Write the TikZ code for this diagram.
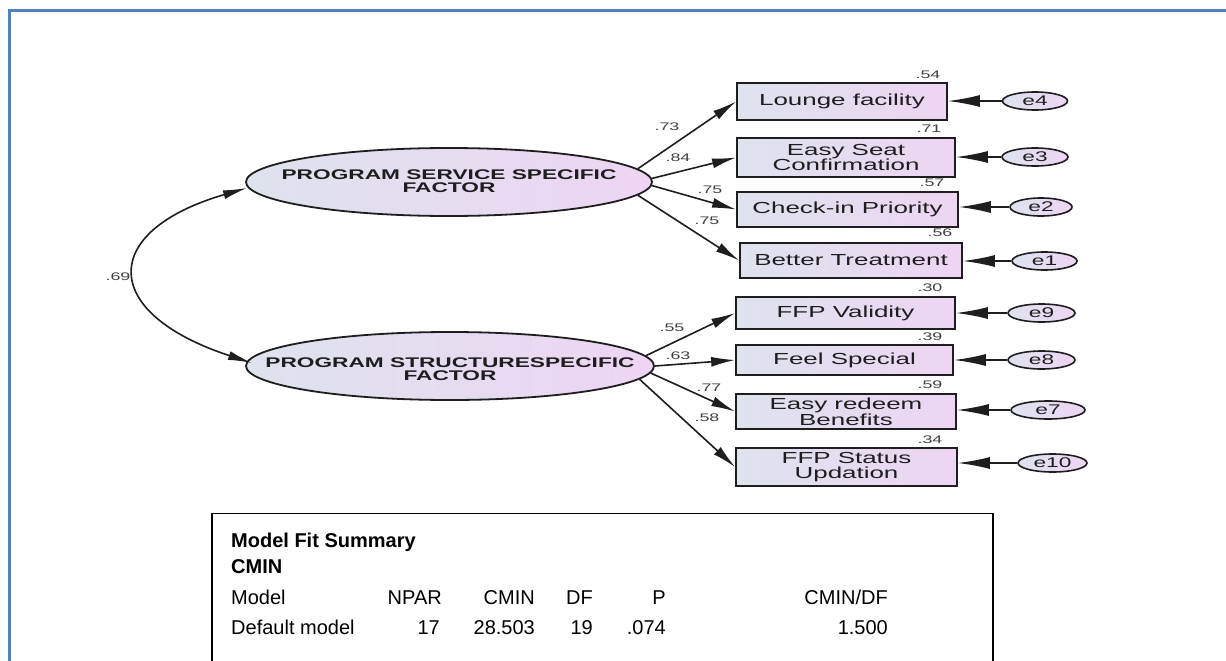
\documentclass[tikz,border=0pt]{standalone}
\usepackage{fontspec}
\setmainfont{Liberation Sans}
\newfontfamily\amos[FakeStretch=1.62]{Liberation Sans}
\usetikzlibrary{arrows.meta,shapes.geometric}

\definecolor{frameblue}{RGB}{79,129,189}
\definecolor{shadeL}{RGB}{222,227,237}
\definecolor{shadeR}{RGB}{237,213,243}
\definecolor{ink}{RGB}{30,30,30}

\begin{document}
\begin{tikzpicture}[x=1pt,y=-1pt,
  latent/.style={ellipse,draw=ink,line width=1.8pt,left color=shadeL,right color=shadeR,
    minimum width=406pt,minimum height=68pt,inner sep=0pt},
  latenttext/.style={inner sep=0pt,align=center,
    font=\amos\bfseries\fontsize{14}{13}\selectfont,text=ink},
  obsbox/.style={rectangle,draw=ink,line width=1.8pt,left color=shadeL,right color=shadeR,
    inner sep=0pt,align=center,font=\amos\fontsize{16}{14.5}\selectfont,text=ink},
  errnode/.style={ellipse,draw=ink,line width=1.6pt,left color=shadeL,right color=shadeR,
    minimum height=18pt,inner sep=0pt,font=\amos\fontsize{14}{14}\selectfont,text=ink},
  coef/.style={font=\amos\fontsize{11}{11}\selectfont,text=ink!85,inner sep=0pt},
  loadarrow/.style={draw=ink,line width=1.6pt,-{Latex[length=24pt,width=10pt]}},
  errarrow/.style={draw=ink,line width=1.6pt,-{Latex[length=32pt,width=12pt]}},
  covarrow/.style={draw=ink,line width=1.6pt,{Latex[length=24pt,width=9pt]}-{Latex[length=24pt,width=9pt]}},
  tabtext/.style={font=\fontsize{20}{24}\selectfont,inner sep=0pt,text=black}
]
\useasboundingbox (0,0) rectangle (1226,661);
\fill[white] (0,0) rectangle (1226,661);

% outer frame
\draw[frameblue,line width=3pt] (9.5,680) -- (9.5,10.5) -- (1240,10.5);

% latent factors
\node[latent] (ps) at (449,182) {};
\node[latenttext] (pstxt) at (449,181) {PROGRAM SERVICE SPECIFIC\\FACTOR};
\node[latent,minimum width=408pt] (pst) at (450,366) {};
\node[latenttext] (psttxt) at (450,369) {PROGRAM STRUCTURESPECIFIC\\FACTOR};

% observed variables
\node[obsbox,minimum width=210pt,minimum height=37pt] (lounge)  at (842,101.5) {Lounge facility};
\node[obsbox,minimum width=218pt,minimum height=39pt] (seat)    at (846,157.5) {Easy Seat\\Confirmation};
\node[obsbox,minimum width=221pt,minimum height=35pt] (checkin) at (847.5,209.5) {Check-in Priority};
\node[obsbox,minimum width=222pt,minimum height=35pt] (better)  at (851,260.5) {Better Treatment};
\node[obsbox,minimum width=219pt,minimum height=32pt] (valid)   at (845.5,313) {FFP Validity};
\node[obsbox,minimum width=217pt,minimum height=30pt] (special) at (844.5,360) {Feel Special};
\node[obsbox,minimum width=220pt,minimum height=35pt] (redeem)  at (846,411.5) {Easy redeem\\Benefits};
\node[obsbox,minimum width=221pt,minimum height=38pt] (status)  at (846.5,467) {FFP Status\\Updation};

% error terms
\node[errnode,minimum width=65pt] (e4)  at (1035,101) {e4};
\node[errnode,minimum width=66pt] (e3)  at (1035,157) {e3};
\node[errnode,minimum width=62pt] (e2)  at (1041,207) {e2};
\node[errnode,minimum width=65pt] (e1)  at (1044.5,261) {e1};
\node[errnode,minimum width=67pt] (e9)  at (1041.5,313) {e9};
\node[errnode,minimum width=67pt] (e8)  at (1041.5,360) {e8};
\node[errnode,minimum width=74pt] (e7)  at (1048,410) {e7};
\node[errnode,minimum width=69pt] (e10) at (1052.5,463) {e10};

% error arrows
\foreach \e/\b in {e4/lounge,e3/seat,e2/checkin,e1/better,e9/valid,e8/special,e7/redeem,e10/status}
  \draw[errarrow] (\e.west) -- (\e.west -| \b.east);

% loadings
\draw[loadarrow] (ps.4.5)  -- (lounge.west);
\draw[loadarrow] (ps.1.5)  -- (seat.west);
\draw[loadarrow] (ps.-1.5) -- (checkin.west);
\draw[loadarrow] (ps.-4.5) -- (better.west);
\draw[loadarrow] (pst.3)   -- (valid.west);
\draw[loadarrow] (pst.-0.5)-- (special.west);
\draw[loadarrow] (pst.-2)  -- (redeem.west);
\draw[loadarrow] (pst.-4.5)-- (status.west);

\node[coef] (l1) at (667,127) {.73};
\node[coef] (l2) at (678,158) {.84};
\node[coef] (l3) at (710,190) {.75};
\node[coef] (l4) at (707,221) {.75};
\node[coef] (l5) at (672,328) {.55};
\node[coef] (l6) at (678,356) {.63};
\node[coef] (l7) at (709,388) {.77};
\node[coef] (l8) at (707,418) {.58};

% squared multiple correlations
\node[coef] (r1) at (928,75)  {.54};
\node[coef] (r2) at (929,129) {.71};
\node[coef] (r3) at (932,183) {.57};
\node[coef] (r4) at (940,233) {.56};
\node[coef] (r5) at (930,288) {.30};
\node[coef] (r6) at (930,337) {.39};
\node[coef] (r7) at (930,385) {.59};
\node[coef] (r8) at (930,440) {.34};

% covariance
\coordinate (ca) at (247,188);
\coordinate (cb) at (252,363);
\draw[covarrow] (ca) .. controls (99,231) and (99,313) .. (cb);
\node[coef] (cov) at (118,277) {.69};

% model fit table
\draw[black,line width=1.8pt] (212,680) -- (212,513.5) -- (993,513.5) -- (993,680);
\node[tabtext,anchor=base west] (t1) at (231,547) {\bfseries Model Fit Summary};
\node[tabtext,anchor=base west] (t2) at (231,573) {\bfseries CMIN};
\node[tabtext,anchor=base west] (h0) at (231,604) {Model};
\node[tabtext,anchor=base east] (h1) at (442,604) {NPAR};
\node[tabtext,anchor=base east] (h2) at (535,604) {CMIN};
\node[tabtext,anchor=base east] (h3) at (593,604) {DF};
\node[tabtext,anchor=base east] (h4) at (666,604) {P};
\node[tabtext,anchor=base east] (h5) at (888,604) {CMIN/DF};
\node[tabtext,anchor=base west] (d0) at (231,634) {Default model};
\node[tabtext,anchor=base east] (d1) at (440,634) {17};
\node[tabtext,anchor=base east] (d2) at (535,634) {28.503};
\node[tabtext,anchor=base east] (d3) at (593,634) {19};
\node[tabtext,anchor=base east] (d4) at (666,634) {.074};
\node[tabtext,anchor=base east] (d5) at (888,634) {1.500};
\end{tikzpicture}
\end{document}
